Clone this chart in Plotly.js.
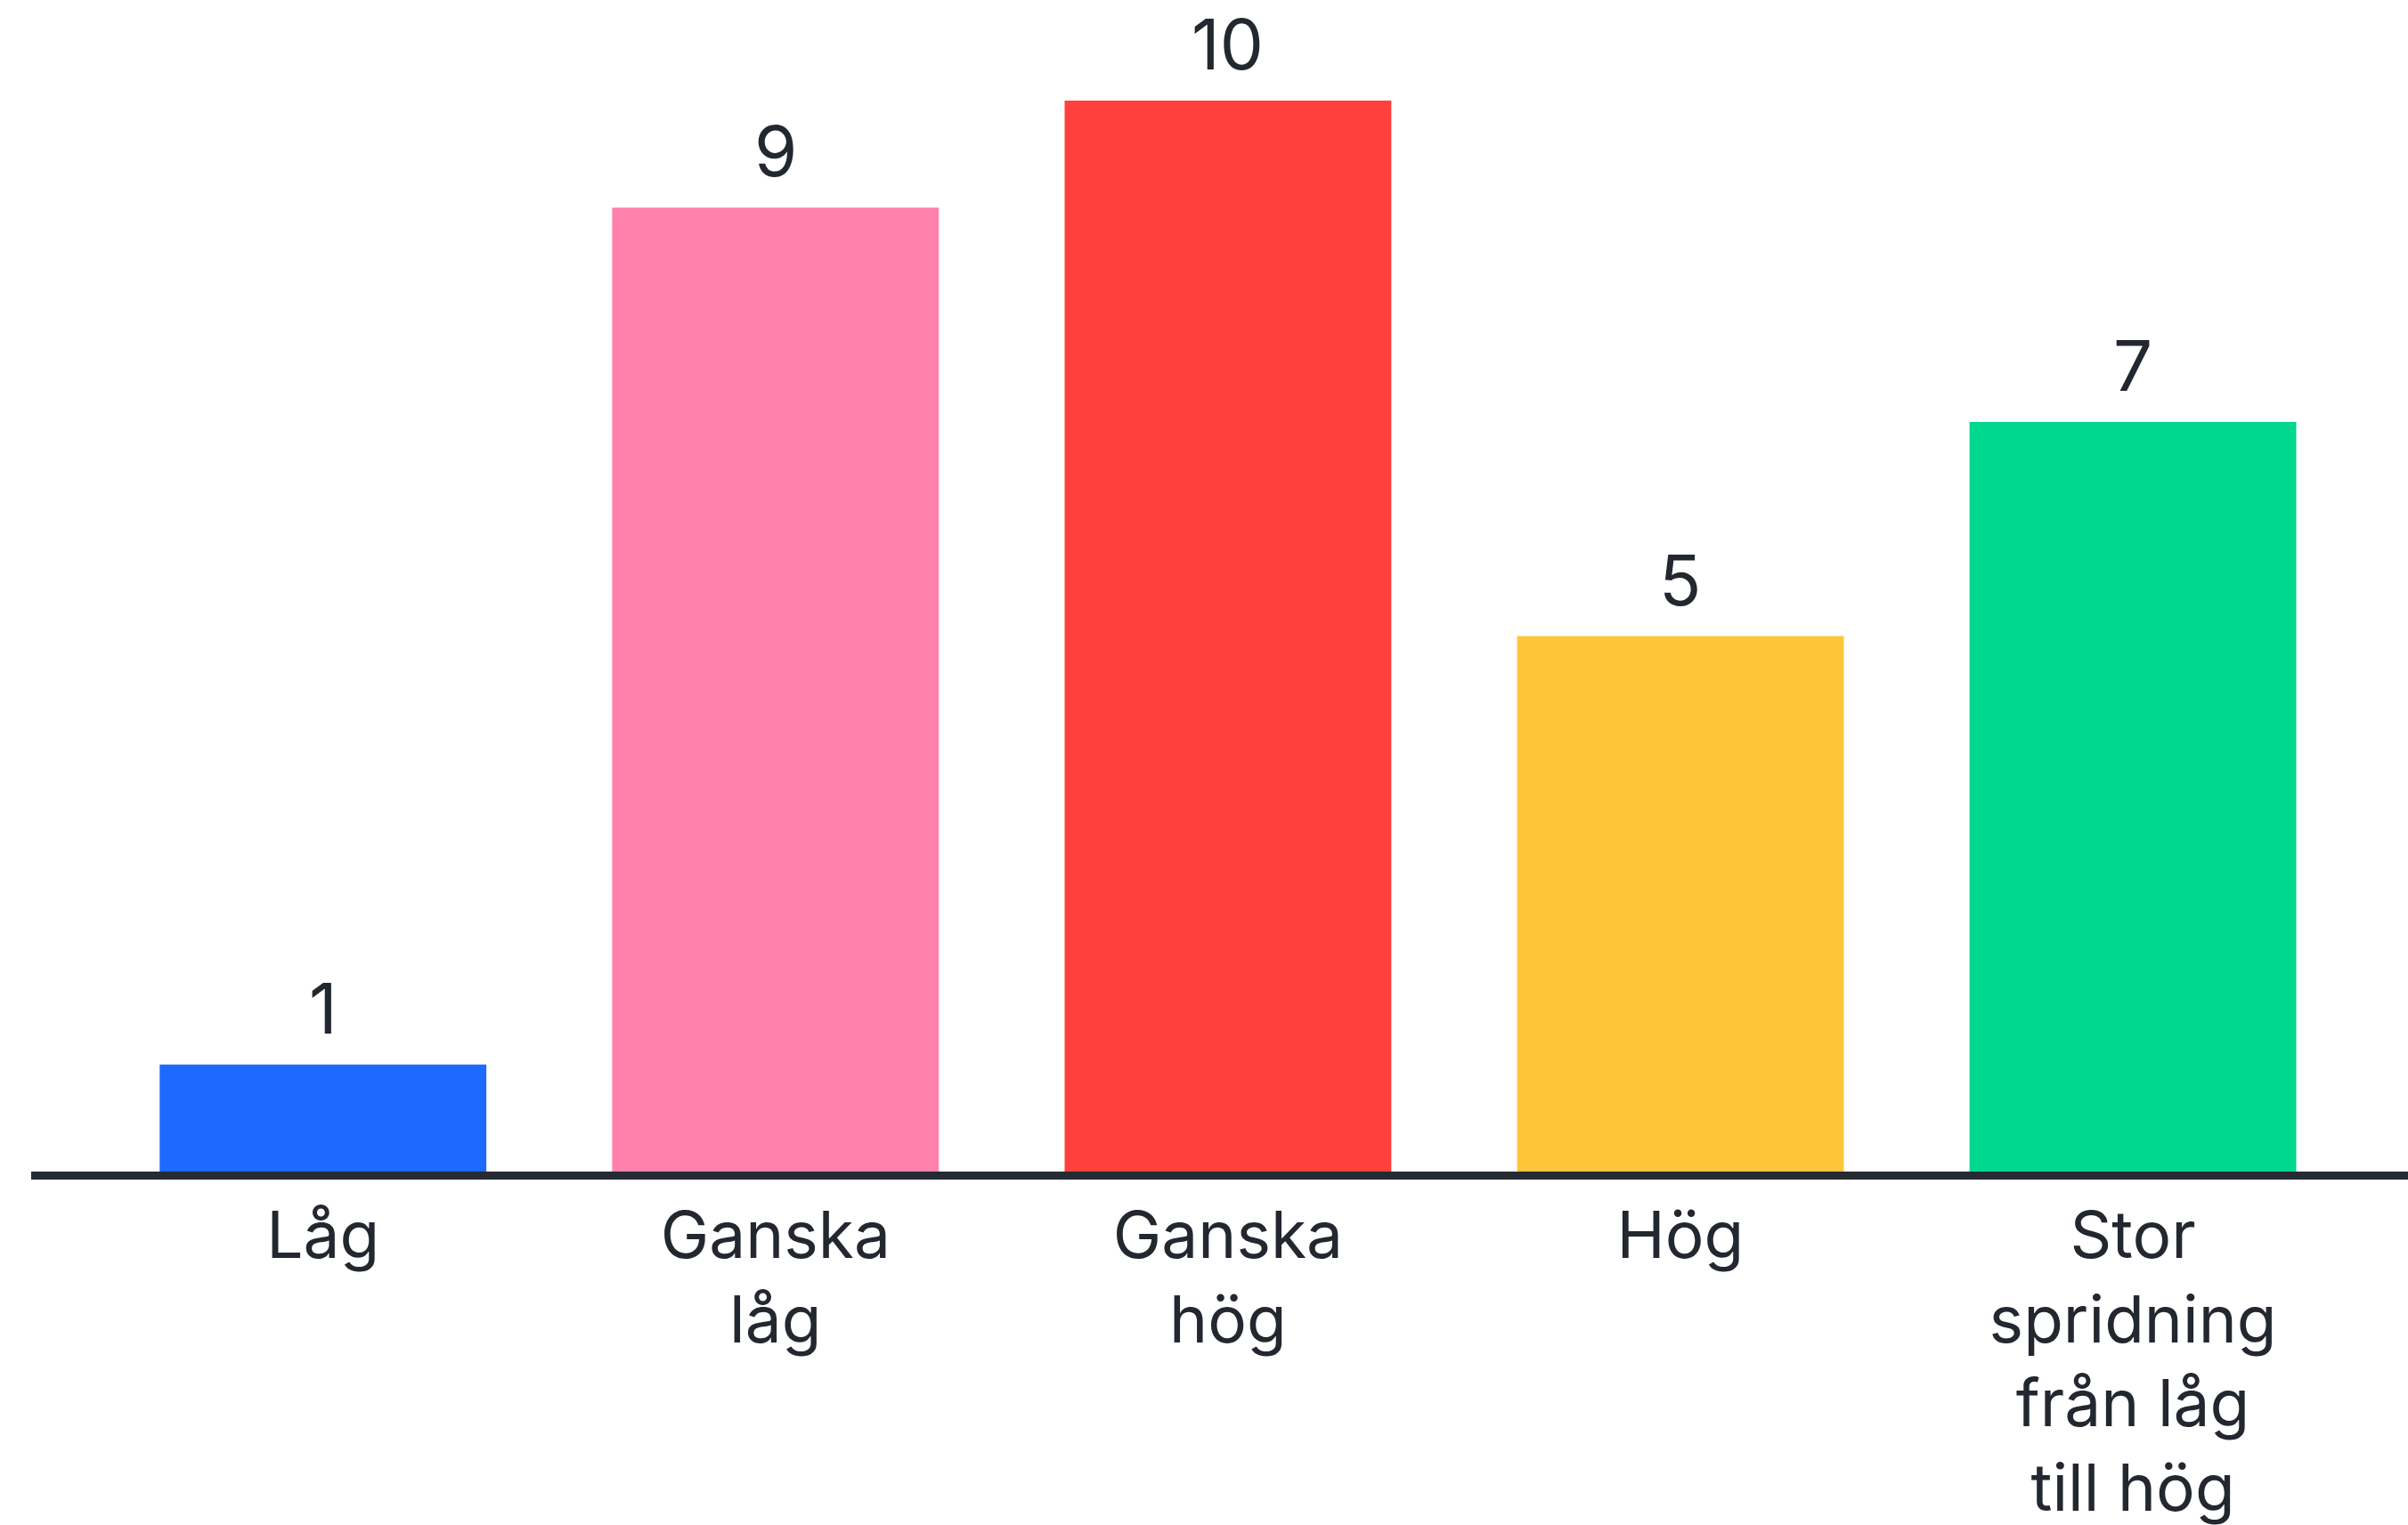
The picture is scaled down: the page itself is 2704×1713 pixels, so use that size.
<!DOCTYPE html>
<html>
<head>
<meta charset="utf-8">
<script src="https://cdn.plot.ly/plotly-3.0.1.min.js"></script>
<style>html,body{margin:0;padding:0;background:#fff;}#chart{width:2704px;height:1713px;}</style>
</head>
<body>
<div id="chart"></div>
<script>
const categories = ["Låg", "Ganska<br>låg", "Ganska<br>hög", "Hög", "Stor<br>spridning<br>från låg<br>till hög"];
const values = [1, 9, 10, 5, 7];
const barColors = ["#1c6aff", "#ff80ab", "#ff403d", "#ffc53a", "#00d78f"];

const FONT = "Inter, 'Noto Sans', sans-serif";
const TEXT_COLOR = "#23272f";

const trace = {
  type: "bar",
  x: categories,
  y: values,
  marker: {color: barColors, line: {width: 0}},
  hoverinfo: "none"
};

const annotations = categories.map((c, i) => ({
  x: c, y: values[i], xref: "x", yref: "y",
  text: String(values[i]),
  showarrow: false, yanchor: "bottom", yshift: 14,
  font: {family: FONT, size: 78, color: TEXT_COLOR}
}));

const layout = {
  width: 2704, height: 1713,
  margin: {l: 35, r: 0, t: 0, b: 397, pad: 0},
  paper_bgcolor: "#ffffff", plot_bgcolor: "#ffffff",
  showlegend: false,
  bargap: 0.278,
  xaxis: {
    type: "category",
    range: [-0.645, 4.608],
    showline: true, linecolor: "#262a33", linewidth: 9,
    showgrid: false, zeroline: false, ticks: "",
    tickfont: {family: FONT, size: 73, color: TEXT_COLOR},
    ticklabelstandoff: 0,
    fixedrange: true
  },
  yaxis: {
    range: [0, 10.94],
    visible: false, showgrid: false, zeroline: false,
    fixedrange: true
  },
  annotations: annotations
};

Plotly.newPlot("chart", [trace], layout, {staticPlot: true, displayModeBar: false});
</script>
</body>
</html>
